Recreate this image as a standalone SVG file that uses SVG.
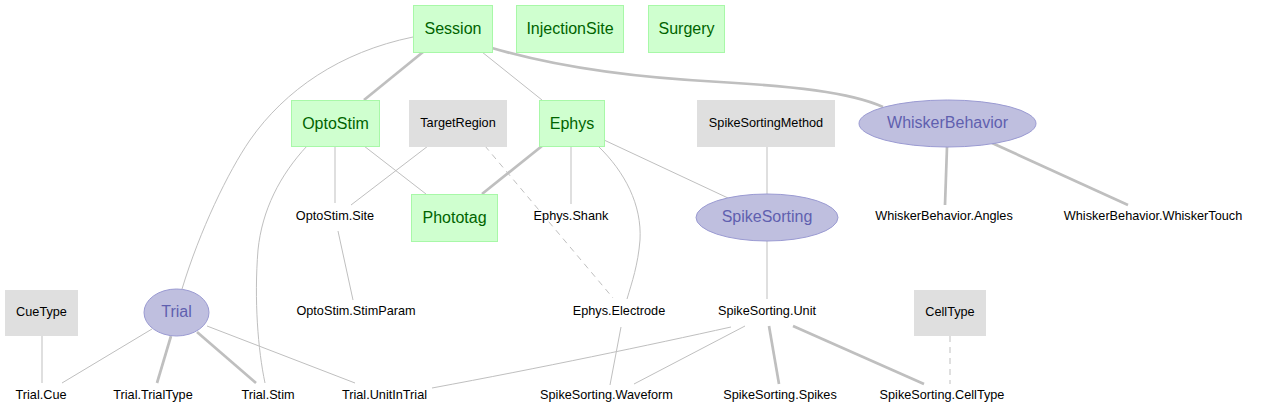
<svg xmlns="http://www.w3.org/2000/svg" width="1263" height="415" viewBox="0 0 1263 415">
<style>
text{font-family:"Liberation Sans",Arial,sans-serif;text-anchor:middle;dominant-baseline:central}
.man rect{fill:#cfffcf;stroke:#a8f8a8;stroke-width:1}
.man text{fill:#006400;font-size:16px}
.lk rect{fill:#dfdfdf;stroke:none}
.lk text{fill:#000;font-size:12.7px}
.imp ellipse{fill:#bfbfdf;stroke:#9a9ad2;stroke-width:1}
.imp text{fill:#5f5faf;font-size:16px}
.part text{fill:#000;font-size:12.7px}
#edges path{fill:none;stroke:#bfbfbf}
.thin{stroke-width:1}
.thick{stroke-width:2.7}
.dash{stroke-width:1;stroke-dasharray:6,5}
</style>
<rect width="1263" height="415" fill="#fff"/>
<g id="edges">
<path class="thin" d="M413,37 C340,52 285,90 250,140 C228,172 200,230 182,289"/>
<path class="thick" d="M423,52 L364,100"/>
<path class="thin" d="M482,52 L542,100"/>
<path class="thick" d="M492,48 C560,68 640,78 720,82 C790,86 850,92 883,107"/>
<path class="thin" d="M335,146 L335,203"/>
<path class="thin" d="M364,146 L426,194"/>
<path class="thin" d="M307,146 C280,175 262,210 258,250 C254,300 258,350 265,383"/>
<path class="thin" d="M428,146 L351,205"/>
<path class="thin" d="M338,231 L353,300"/>
<path class="dash" d="M485,146 L613,298"/>
<path class="thick" d="M542,146 L482,194"/>
<path class="thin" d="M571,146 L571,204"/>
<path class="thin" d="M598,146 C625,172 642,205 640,240 C638,265 632,282 627,299"/>
<path class="thin" d="M604,140 L728,198"/>
<path class="thin" d="M767,146 L767,194"/>
<path class="thick" d="M947,147 L945,205"/>
<path class="thick" d="M992,143 L1128,205"/>
<path class="thin" d="M767,241 L767,299"/>
<path class="thin" d="M621,327 L610,385"/>
<path class="thin" d="M731,327 C650,345 540,368 432,388"/>
<path class="thin" d="M745,326 L634,384"/>
<path class="thick" d="M769,326 L779,384"/>
<path class="thick" d="M793,326 L924,384"/>
<path class="dash" d="M950,336 L950,384"/>
<path class="thin" d="M42,336 L42,383"/>
<path class="thin" d="M152,329 L62,383"/>
<path class="thick" d="M171,336 L157,383"/>
<path class="thick" d="M197,332 L256,383"/>
<path class="thin" d="M207,326 L355,383"/>
</g>
<g id="Session" class="man"><rect x="413.5" y="5.5" width="79" height="47"/><text x="453" y="28">Session</text></g>
<g id="InjectionSite" class="man"><rect x="516.5" y="5.5" width="107" height="47"/><text x="570" y="28">InjectionSite</text></g>
<g id="Surgery" class="man"><rect x="648.5" y="5.5" width="76" height="47"/><text x="686.5" y="28">Surgery</text></g>
<g id="OptoStim" class="man"><rect x="291.5" y="100.5" width="88" height="46"/><text x="335.5" y="123">OptoStim</text></g>
<g id="TargetRegion" class="lk"><rect x="409" y="100" width="98" height="47"/><text x="458" y="123">TargetRegion</text></g>
<g id="Ephys" class="man"><rect x="539.5" y="100.5" width="65" height="46"/><text x="572" y="123">Ephys</text></g>
<g id="SpikeSortingMethod" class="lk"><rect x="697" y="100" width="138" height="47"/><text x="766" y="123">SpikeSortingMethod</text></g>
<g id="WhiskerBehavior" class="imp"><ellipse cx="947.5" cy="123.5" rx="88.5" ry="23.5"/><text x="947.5" y="122">WhiskerBehavior</text></g>
<g id="OptoStim.Site" class="part"><text x="335" y="216">OptoStim.Site</text></g>
<g id="Phototag" class="man"><rect x="411.5" y="194.5" width="86" height="47"/><text x="454.5" y="217">Phototag</text></g>
<g id="Ephys.Shank" class="part"><text x="571" y="216">Ephys.Shank</text></g>
<g id="SpikeSorting" class="imp"><ellipse cx="767" cy="217.5" rx="71" ry="23.5"/><text x="767" y="216">SpikeSorting</text></g>
<g id="WhiskerBehavior.Angles" class="part"><text x="944" y="216">WhiskerBehavior.Angles</text></g>
<g id="WhiskerBehavior.WhiskerTouch" class="part"><text x="1153" y="216">WhiskerBehavior.WhiskerTouch</text></g>
<g id="CueType" class="lk"><rect x="5" y="290" width="73" height="46"/><text x="41.5" y="312">CueType</text></g>
<g id="Trial" class="imp"><ellipse cx="176.5" cy="312.5" rx="32.5" ry="23.5"/><text x="176.5" y="311">Trial</text></g>
<g id="OptoStim.StimParam" class="part"><text x="356" y="311">OptoStim.StimParam</text></g>
<g id="Ephys.Electrode" class="part"><text x="619" y="311">Ephys.Electrode</text></g>
<g id="SpikeSorting.Unit" class="part"><text x="767" y="311">SpikeSorting.Unit</text></g>
<g id="CellType" class="lk"><rect x="914" y="290" width="72" height="46"/><text x="950" y="312">CellType</text></g>
<g id="Trial.Cue" class="part"><text x="41" y="395">Trial.Cue</text></g>
<g id="Trial.TrialType" class="part"><text x="153" y="395">Trial.TrialType</text></g>
<g id="Trial.Stim" class="part"><text x="268" y="395">Trial.Stim</text></g>
<g id="Trial.UnitInTrial" class="part"><text x="384.5" y="395">Trial.UnitInTrial</text></g>
<g id="SpikeSorting.Waveform" class="part"><text x="606.5" y="395">SpikeSorting.Waveform</text></g>
<g id="SpikeSorting.Spikes" class="part"><text x="780" y="395">SpikeSorting.Spikes</text></g>
<g id="SpikeSorting.CellType" class="part"><text x="942" y="395">SpikeSorting.CellType</text></g>
</svg>
